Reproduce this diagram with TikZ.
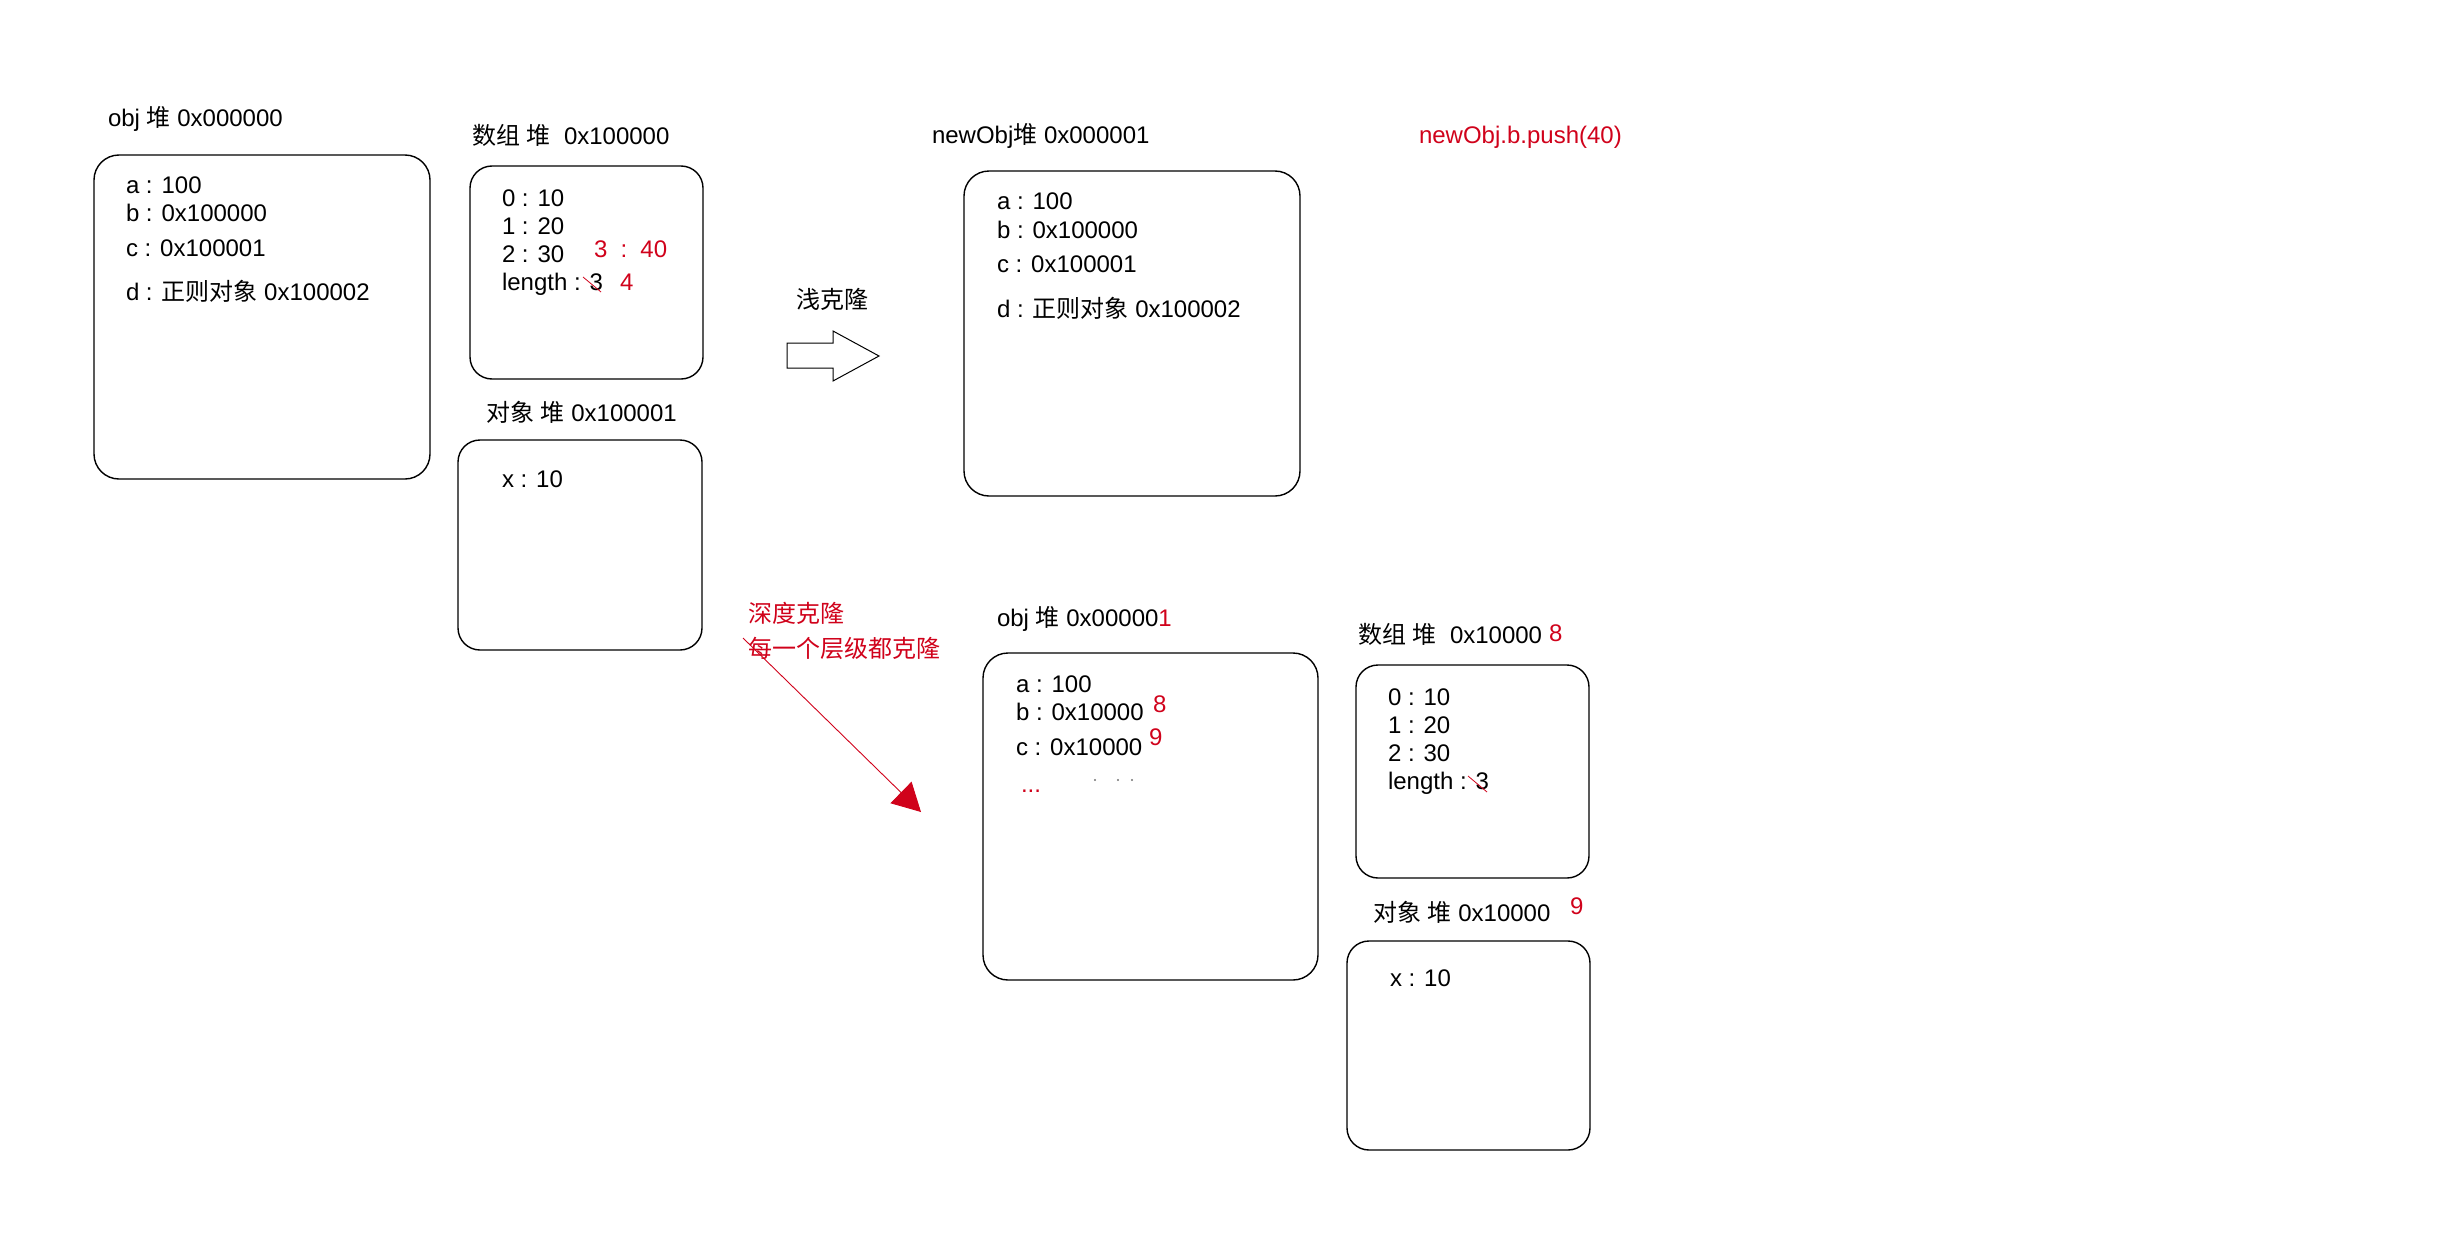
\documentclass[tikz,border=0pt]{standalone}
\usepackage{fontspec}
\setmainfont{Liberation Sans}
\newfontfamily\cjk{Noto Sans CJK SC}
\newcommand{\zh}[1]{{\cjk #1}}
\usetikzlibrary{arrows.meta}
\definecolor{memred}{RGB}{208,2,27}
\begin{document}
\begin{tikzpicture}[x=1pt,y=-1pt,
  heap/.style={draw=black, line width=1.4pt, rounded corners=#1, anchor=north west,
               inner sep=0pt, outer sep=0pt},
  heap/.default=22pt,
  txt/.style={anchor=base west, inner sep=0pt, outer sep=0pt,
              font=\fontsize{24}{29}\selectfont},
  note/.style={txt, text=memred},
  strike/.style={draw=memred, line width=0.8pt},
  ]
\useasboundingbox (0,0) rectangle (2452,1247);

% ---------- original object and its heaps ----------
\node[txt] (objTitle) at (108,126.5) {obj \zh{堆} 0x000000};
\node[heap=25pt, minimum width=336pt, minimum height=324pt] (objBox) at (94,155) {};
\node[txt] (objA) at (126,193.5) {a : 100};
\node[txt] (objB) at (126,221.5) {b : 0x100000};
\node[txt] (objC) at (126,256.5) {c : 0x100001};
\node[txt] (objD) at (126,300.5) {d : \zh{正则对象} 0x100002};

\node[txt] (arrTitle) at (472,144.5) {\zh{数组} \zh{堆}\ \ 0x100000};
\node[heap, minimum width=233pt, minimum height=213pt] (arrBox) at (470,166) {};
\node[txt] (arr0) at (502,206.5) {0 : 10};
\node[txt] (arr1) at (502,234.5) {1 : 20};
\node[txt] (arr2) at (502,262.5) {2 : 30};
\node[txt] (arrLen) at (502,290.5) {length : 3};
\node[note] (arrPush) at (594,257.5) {3\hspace{0.55em}:\hspace{0.55em}40};
\node[note] (arrLenNew) at (620,290.5) {4};
\coordinate (arrStrikeA) at (583,277);
\coordinate (arrStrikeB) at (601,292);
\draw[strike] (arrStrikeA) -- (arrStrikeB);

\node[txt] (subTitle) at (486,421.5) {\zh{对象} \zh{堆} 0x100001};
\node[heap, minimum width=244pt, minimum height=210pt] (subBox) at (458,440) {};
\node[txt] (subX) at (502,487.5) {x : 10};

% ---------- shallow clone ----------
\node[txt] (shallowLabel) at (796,308) {\zh{浅克隆}};
\draw[line width=1pt, line join=miter]
  (787,343) -- (833,343) -- (833,331) -- (879,356) -- (833,381) -- (833,368) -- (787,368) -- cycle;

\node[txt] (newTitle) at (932,143.5) {newObj\zh{堆} 0x000001};
\node[heap=25pt, minimum width=336pt, minimum height=325pt] (newBox) at (964,171) {};
\node[txt] (newA) at (997,209.5) {a : 100};
\node[txt] (newB) at (997,238.5) {b : 0x100000};
\node[txt] (newC) at (997,272.5) {c : 0x100001};
\node[txt] (newD) at (997,317) {d : \zh{正则对象} 0x100002};

\node[note] (pushNote) at (1419,143.5) {newObj.b.push(40)};

% ---------- deep clone ----------
\node[note] (deepLabel) at (748,622) {\zh{深度克隆}};
\node[note] (deepLabelB) at (748,657) {\zh{每一个层级都克隆}};
\coordinate (deepFrom) at (743,638);
\coordinate (deepTo) at (921,812);
\draw[memred, line width=0.9pt, -{Triangle[length=28pt,width=30pt]}] (deepFrom) -- (deepTo);

\node[txt] (deepTitle) at (997,626.5) {obj \zh{堆} 0x00000\textcolor{memred}{1}};
\node[heap=25pt, minimum width=335pt, minimum height=327pt] (deepBox) at (983,653) {};
\node[txt] (deepA) at (1016,692.5) {a : 100};
\node[txt] (deepB) at (1016,720.5) {b : 0x10000};
\node[note] (deepB8) at (1153,712.5) {8};
\node[txt] (deepC) at (1016,755.5) {c : 0x10000};
\node[note] (deepC9) at (1149,745.5) {9};
\node[note] (deepMore) at (1021,792) {...};
\fill[black!55] (1095,780) circle (1.1) (1118,780) circle (1.1) (1132,780) circle (1.1);

\node[txt] (darrTitle) at (1358,643.5) {\zh{数组} \zh{堆}\ \ 0x10000};
\node[note] (darrTitle8) at (1549,641.5) {8};
\node[heap, minimum width=233pt, minimum height=213pt] (darrBox) at (1356,665) {};
\node[txt] (darr0) at (1388,705.5) {0 : 10};
\node[txt] (darr1) at (1388,733.5) {1 : 20};
\node[txt] (darr2) at (1388,761.5) {2 : 30};
\node[txt] (darrLen) at (1388,789.5) {length : 3};
\coordinate (darrStrikeA) at (1468,776);
\coordinate (darrStrikeB) at (1487,792);
\draw[strike] (darrStrikeA) -- (darrStrikeB);

\node[txt] (dsubTitle) at (1373,921.5) {\zh{对象} \zh{堆} 0x10000};
\node[note] (dsubTitle9) at (1570,914.5) {9};
\node[heap, minimum width=243pt, minimum height=209pt] (dsubBox) at (1347,941) {};
\node[txt] (dsubX) at (1390,986.5) {x : 10};
\end{tikzpicture}
\end{document}
